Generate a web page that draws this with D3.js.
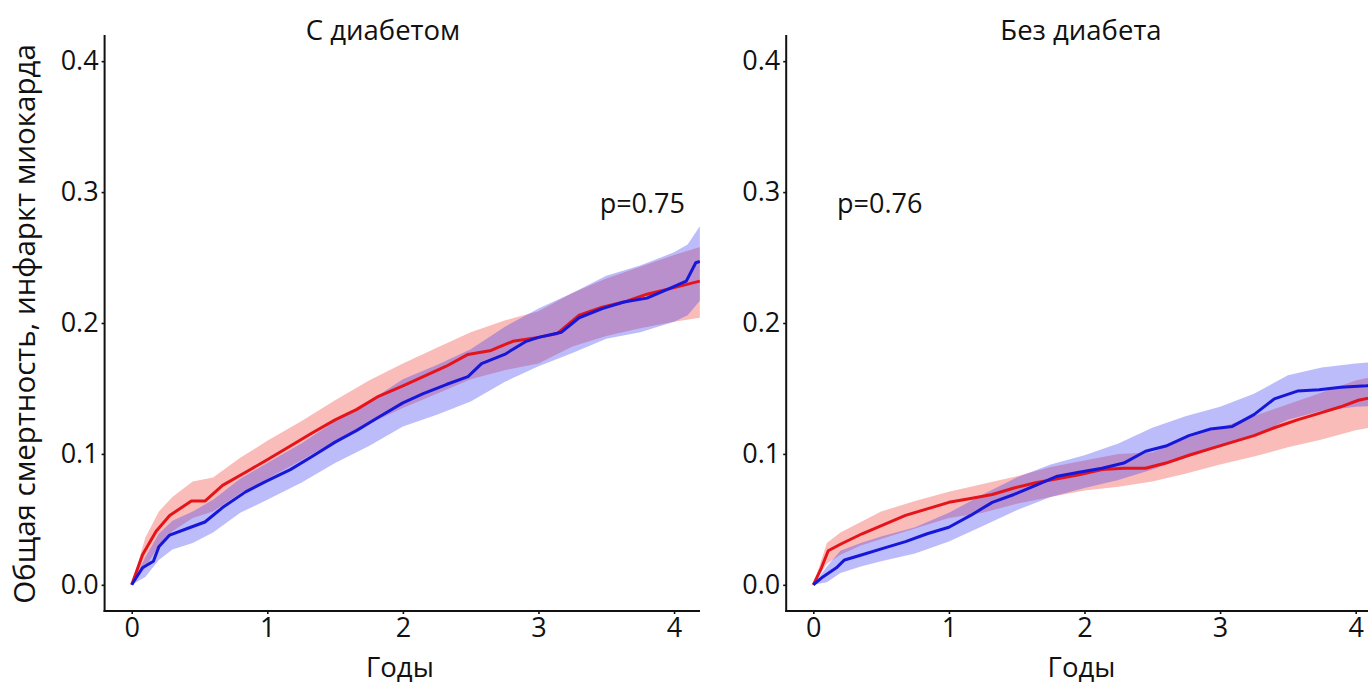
<!DOCTYPE html>
<html>
<head>
<meta charset="utf-8">
<script src="https://cdn.jsdelivr.net/npm/d3@7"></script>
<style>
  body { margin: 0; background: #fff; }
  svg { display: block; }
  text { font-family: "Open Sans", sans-serif; fill: #111; }
</style>
</head>
<body>
<svg id="chart" width="1368" height="685"></svg>
<script>
// Cumulative incidence (death / myocardial infarction) by years of follow-up.
// Each line: [years, proportion]; each band: [years, lower, upper].

// ---- С диабетом ----
const diabRedLine = [
  [0,0],[0.08,0.023],[0.18,0.041],[0.28,0.053],[0.44,0.064],[0.54,0.064],[0.67,0.076],
  [0.84,0.086],[0.99,0.095],[1.17,0.106],[1.33,0.116],[1.5,0.126],[1.66,0.134],[1.82,0.144],
  [2.0,0.152],[2.15,0.159],[2.32,0.167],[2.48,0.176],[2.65,0.179],[2.81,0.186],[3.0,0.189],
  [3.14,0.192],[3.3,0.206],[3.47,0.212],[3.63,0.216],[3.8,0.222],[4.0,0.227],[4.19,0.232]
];
const diabBlueLine = [
  [0,0],[0.08,0.013],[0.16,0.018],[0.2,0.029],[0.28,0.038],[0.41,0.043],[0.54,0.048],
  [0.67,0.059],[0.84,0.071],[0.99,0.079],[1.17,0.088],[1.33,0.098],[1.5,0.109],[1.66,0.118],
  [1.82,0.128],[2.0,0.139],[2.15,0.146],[2.32,0.153],[2.48,0.159],[2.58,0.169],[2.75,0.176],
  [2.91,0.186],[3.0,0.189],[3.17,0.193],[3.3,0.204],[3.47,0.211],[3.63,0.216],[3.8,0.219],
  [3.96,0.226],[4.09,0.232],[4.16,0.246],[4.19,0.247]
];
const diabRedBand = [
  [0,0,0],[0.1,0.013,0.036],[0.2,0.030,0.056],[0.3,0.041,0.067],[0.45,0.051,0.079],
  [0.6,0.056,0.082],[0.8,0.070,0.097],[1.0,0.081,0.110],[1.25,0.095,0.125],[1.5,0.110,0.141],
  [1.75,0.123,0.156],[2.0,0.135,0.169],[2.25,0.146,0.181],[2.5,0.157,0.193],[2.75,0.164,0.202],
  [3.0,0.169,0.209],[3.25,0.182,0.223],[3.5,0.190,0.234],[3.75,0.196,0.243],[4.0,0.201,0.252],
  [4.19,0.204,0.258]
];
const diabBlueBand = [
  [0,0,0],[0.1,0.006,0.021],[0.2,0.019,0.039],[0.3,0.027,0.049],[0.45,0.032,0.056],
  [0.6,0.040,0.065],[0.8,0.055,0.081],[1.0,0.065,0.093],[1.25,0.078,0.108],[1.5,0.093,0.125],
  [1.75,0.106,0.140],[2.0,0.121,0.157],[2.25,0.130,0.168],[2.5,0.140,0.180],[2.75,0.155,0.197],
  [3.0,0.167,0.211],[3.25,0.177,0.223],[3.5,0.188,0.236],[3.75,0.193,0.244],[4.0,0.201,0.254],
  [4.1,0.206,0.260],[4.19,0.217,0.274]
];

// ---- Без диабета ----
const noDiabRedLine = [
  [0,0],[0.06,0.013],[0.11,0.026],[0.2,0.031],[0.36,0.039],[0.52,0.046],[0.68,0.053],
  [0.84,0.058],[1.0,0.063],[1.16,0.066],[1.32,0.069],[1.48,0.074],[1.64,0.078],[1.8,0.081],
  [1.96,0.084],[2.13,0.088],[2.29,0.089],[2.45,0.089],[2.6,0.093],[2.77,0.099],[2.93,0.104],
  [3.09,0.109],[3.25,0.114],[3.4,0.120],[3.57,0.126],[3.73,0.131],[3.89,0.136],[4.02,0.141],
  [4.2,0.145]
];
const noDiabBlueLine = [
  [0,0],[0.07,0.006],[0.17,0.013],[0.23,0.019],[0.36,0.023],[0.52,0.028],[0.68,0.033],
  [0.84,0.039],[1.0,0.044],[1.16,0.053],[1.32,0.063],[1.48,0.069],[1.64,0.076],[1.8,0.083],
  [1.96,0.086],[2.13,0.089],[2.29,0.093],[2.45,0.102],[2.6,0.106],[2.77,0.114],[2.93,0.119],
  [3.09,0.121],[3.25,0.130],[3.4,0.142],[3.57,0.148],[3.73,0.149],[3.89,0.151],[4.08,0.152],
  [4.2,0.153]
];
const noDiabRedBand = [
  [0,0,0],[0.1,0.016,0.032],[0.2,0.023,0.040],[0.35,0.030,0.048],[0.5,0.035,0.056],
  [0.75,0.043,0.064],[1.0,0.051,0.071],[1.25,0.055,0.077],[1.5,0.062,0.083],[1.75,0.067,0.090],
  [2.0,0.072,0.095],[2.25,0.075,0.100],[2.5,0.079,0.101],[2.75,0.085,0.112],[3.0,0.092,0.120],
  [3.25,0.098,0.129],[3.5,0.105,0.138],[3.75,0.111,0.147],[4.0,0.118,0.156],[4.2,0.122,0.161]
];
const noDiabBlueBand = [
  [0,0,0],[0.1,0.002,0.014],[0.2,0.009,0.026],[0.35,0.014,0.032],[0.5,0.018,0.037],
  [0.75,0.024,0.044],[1.0,0.033,0.055],[1.25,0.045,0.069],[1.5,0.057,0.082],[1.75,0.067,0.092],
  [2.0,0.074,0.099],[2.25,0.080,0.108],[2.5,0.088,0.120],[2.75,0.097,0.129],[3.0,0.105,0.136],
  [3.25,0.114,0.146],[3.5,0.126,0.160],[3.75,0.133,0.166],[4.0,0.136,0.169],[4.2,0.137,0.171]
];

const panelTitles = ["С диабетом", "Без диабета"];
const pValues = ["p=0.75", "p=0.76"];
const xTickValues = [0, 1, 2, 3, 4];
const yTickValues = [0, 0.1, 0.2, 0.3, 0.4];
const xAxisTitle = "Годы";
const yAxisTitle = "Общая смертность, инфаркт миокарда";

// ---- layout ----
const svg = d3.select("#chart");
const plotTop = 35, plotBottom = 611, plotWidth = 596.6;
const colors = {
  redLine: "#e5141b", blueLine: "#1717d9",
  redBand: "rgba(240, 70, 60, 0.36)", blueBand: "rgba(60, 60, 240, 0.34)"
};

const panels = [
  { left: 104.6, clipRight: 700, title: panelTitles[0], titleX: 383, p: pValues[0], pX: 685, pAnchor: "end",
    red: diabRedLine, blue: diabBlueLine, redBand: diabRedBand, blueBand: diabBlueBand },
  { left: 786.2, clipRight: 1368, title: panelTitles[1], titleX: 1081, p: pValues[1], pX: 837, pAnchor: "start",
    red: noDiabRedLine, blue: noDiabBlueLine, redBand: noDiabRedBand, blueBand: noDiabBlueBand }
];

const y = d3.scaleLinear().domain([-0.02, 0.42]).range([plotBottom, plotTop]);

panels.forEach((p, i) => {
  const x = d3.scaleLinear().domain([-0.2, 4.2]).range([p.left, p.left + plotWidth]);
  const g = svg.append("g");

  const clipId = "clip" + i;
  svg.append("clipPath").attr("id", clipId)
    .append("rect")
    .attr("x", p.left).attr("y", plotTop)
    .attr("width", p.clipRight - p.left).attr("height", plotBottom - plotTop);

  const plot = g.append("g").attr("clip-path", `url(#${clipId})`);

  const band = d3.area()
    .x(d => x(d[0])).y0(d => y(d[1])).y1(d => y(d[2]))
    .curve(d3.curveLinear);
  const line = d3.line().x(d => x(d[0])).y(d => y(d[1])).curve(d3.curveLinear);

  plot.append("path").datum(p.redBand).attr("d", band).attr("fill", colors.redBand);
  plot.append("path").datum(p.blueBand).attr("d", band).attr("fill", colors.blueBand);
  plot.append("path").datum(p.red).attr("d", line)
    .attr("fill", "none").attr("stroke", colors.redLine).attr("stroke-width", 3)
    .attr("stroke-linejoin", "round");
  plot.append("path").datum(p.blue).attr("d", line)
    .attr("fill", "none").attr("stroke", colors.blueLine).attr("stroke-width", 3)
    .attr("stroke-linejoin", "round");

  // y axis
  const yAxis = d3.axisLeft(y).tickValues(yTickValues).tickFormat(d3.format(".1f"))
    .tickSize(3).tickPadding(3);
  const ya = g.append("g").attr("transform", `translate(${p.left},0)`).call(yAxis);
  ya.select(".domain").remove();
  ya.append("line").attr("x1", 0).attr("x2", 0).attr("y1", plotTop).attr("y2", plotBottom + 1)
    .attr("stroke", "#111").attr("stroke-width", 2);

  // x axis
  const xAxis = d3.axisBottom(x).tickValues(xTickValues).tickFormat(d3.format("d"))
    .tickSize(3).tickPadding(3.5);
  const xa = g.append("g").attr("transform", `translate(0,${plotBottom})`).call(xAxis);
  xa.select(".domain").remove();
  xa.append("line").attr("x1", p.left - 1).attr("x2", Math.min(p.clipRight, p.left + plotWidth))
    .attr("y1", 0).attr("y2", 0).attr("stroke", "#111").attr("stroke-width", 2);

  [ya, xa].forEach(a => {
    a.selectAll(".tick line").attr("stroke", "#111").attr("stroke-width", 1.6);
    a.selectAll(".tick text").attr("font-size", 27).attr("fill", "#111")
      .style("font-family", '"Open Sans", sans-serif');
  });

  // panel title
  g.append("text").attr("x", p.titleX).attr("y", 40).attr("text-anchor", "middle")
    .attr("font-size", 27.5).text(p.title);

  // x axis title
  g.append("text").attr("x", p.left + plotWidth / 2 - 3).attr("y", 676.5).attr("text-anchor", "middle")
    .attr("font-size", 27.5).text(xAxisTitle);

  // p-value
  g.append("text").attr("x", p.pX).attr("y", 213).attr("text-anchor", p.pAnchor)
    .attr("font-size", 27).text(p.p);
});

// shared y axis title
svg.append("text")
  .attr("transform", "translate(35,324) rotate(-90)")
  .attr("text-anchor", "middle")
  .attr("font-size", 29.5)
  .text(yAxisTitle);
</script>
</body>
</html>
